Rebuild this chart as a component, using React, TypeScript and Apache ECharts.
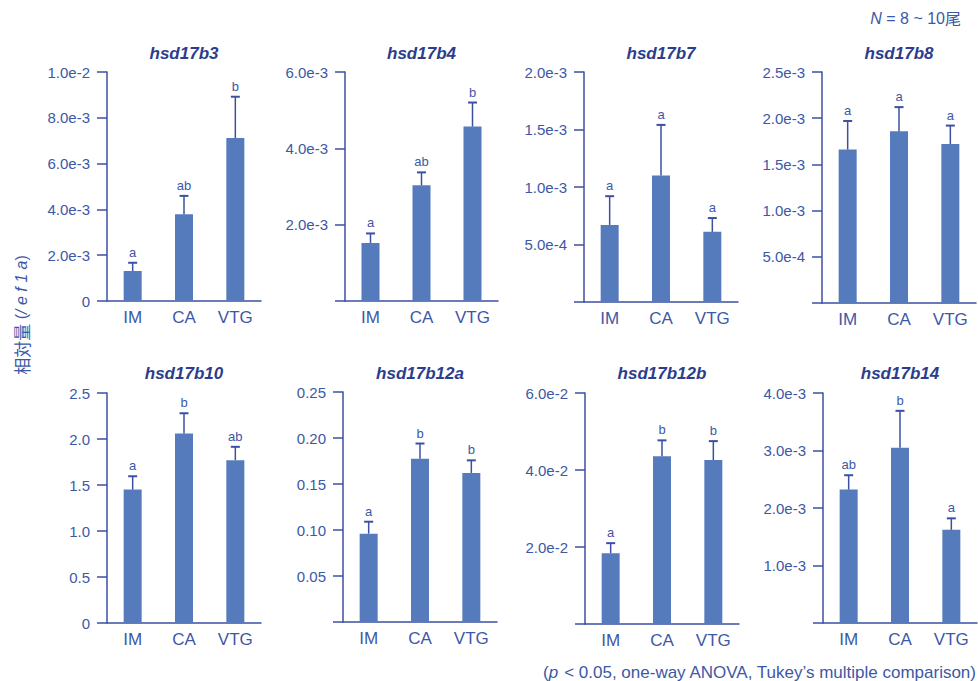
import React, { useEffect, useRef } from "react";
import * as echarts from "echarts";

const categories = ["IM", "CA", "VTG"];
const titles = ["hsd17b3", "hsd17b4", "hsd17b7", "hsd17b8", "hsd17b10", "hsd17b12a", "hsd17b12b", "hsd17b14"];

const meanB3 = [0.00131, 0.00379, 0.00712];
const semB3 = [0.00036, 0.0008, 0.0018];
const meanB4 = [0.00152, 0.00303, 0.00457];
const semB4 = [0.00025, 0.00034, 0.00063];
const meanB7 = [0.00067, 0.0011, 0.00061];
const semB7 = [0.00025, 0.00044, 0.00012];
const meanB8 = [0.00166, 0.00186, 0.00172];
const semB8 = [0.00031, 0.00026, 0.0002];
const meanB10 = [1.45, 2.06, 1.77];
const semB10 = [0.145, 0.22, 0.145];
const meanB12a = [0.096, 0.1775, 0.162];
const semB12a = [0.013, 0.0165, 0.0137];
const meanB12b = [0.0184, 0.0436, 0.0426];
const semB12b = [0.0026, 0.0041, 0.0049];
const meanB14 = [0.00232, 0.00305, 0.00162];
const semB14 = [0.00025, 0.00064, 0.0002];

const lettersB3 = ["a", "ab", "b"];
const lettersB4 = ["a", "ab", "b"];
const lettersB7 = ["a", "a", "a"];
const lettersB8 = ["a", "a", "a"];
const lettersB10 = ["a", "b", "ab"];
const lettersB12a = ["a", "b", "b"];
const lettersB12b = ["a", "b", "b"];
const lettersB14 = ["ab", "b", "a"];

const axisMax = [0.01, 0.006, 0.002, 0.0025, 2.5, 0.25, 0.06, 0.004];
const axisInterval = [0.002, 0.002, 0.0005, 0.0005, 0.5, 0.05, 0.02, 0.001];

const ticksB3 = ["0", "2.0e-3", "4.0e-3", "6.0e-3", "8.0e-3", "1.0e-2"];
const ticksB4 = ["", "2.0e-3", "4.0e-3", "6.0e-3"];
const ticksB7 = ["", "5.0e-4", "1.0e-3", "1.5e-3", "2.0e-3"];
const ticksB8 = ["", "5.0e-4", "1.0e-3", "1.5e-3", "2.0e-3", "2.5e-3"];
const ticksB10 = ["0", "0.5", "1.0", "1.5", "2.0", "2.5"];
const ticksB12a = ["", "0.05", "0.10", "0.15", "0.20", "0.25"];
const ticksB12b = ["", "2.0e-2", "4.0e-2", "6.0e-2"];
const ticksB14 = ["", "1.0e-3", "2.0e-3", "3.0e-3", "4.0e-3"];

const means = [meanB3, meanB4, meanB7, meanB8, meanB10, meanB12a, meanB12b, meanB14];
const sems = [semB3, semB4, semB7, semB8, semB10, semB12a, semB12b, semB14];
const letters = [lettersB3, lettersB4, lettersB7, lettersB8, lettersB10, lettersB12a, lettersB12b, lettersB14];
const tickLabels = [ticksB3, ticksB4, ticksB7, ticksB8, ticksB10, ticksB12a, ticksB12b, ticksB14];

const BAR = "#557bbd";
const AXIS = "#3b50a3";
const TEXT = "#3d58a6";
const TITLE = "#2b3d8c";
const LATIN = '"Liberation Sans", Arial, sans-serif';
const CJK = '"Noto Sans CJK JP", "Liberation Sans", sans-serif';

const gridPos = [
  { left: 107, top: 72, width: 154, height: 229 },
  { left: 345, top: 72, width: 153, height: 229 },
  { left: 584, top: 72, width: 154, height: 230 },
  { left: 822, top: 72, width: 154, height: 231 },
  { left: 107, top: 393, width: 154, height: 230 },
  { left: 343, top: 392, width: 154, height: 230 },
  { left: 585, top: 393, width: 154, height: 231 },
  { left: 823, top: 393, width: 154, height: 230 },
];

export default function App() {
  const ref = useRef<HTMLDivElement>(null);
  useEffect(() => {
    document.body.style.margin = "0";
    if (!ref.current) return;
    const chart = echarts.init(ref.current, undefined, { renderer: "svg" });

    const grids = gridPos.map((g) => ({ ...g, containLabel: false }));
    const xAxes = gridPos.map((_, i) => ({
      type: "category",
      gridIndex: i,
      data: categories,
      axisLine: { show: true, lineStyle: { color: AXIS, width: 1.5 } },
      axisTick: { show: false },
      axisLabel: { color: TEXT, fontSize: 17, fontFamily: LATIN, margin: 8 },
    }));
    const yAxes = gridPos.map((_, i) => ({
      type: "value",
      gridIndex: i,
      min: 0,
      max: axisMax[i],
      interval: axisInterval[i],
      splitLine: { show: false },
      axisLine: { show: true, lineStyle: { color: AXIS, width: 1.5 } },
      axisTick: { show: true, length: 10, inside: false, lineStyle: { color: AXIS, width: 1.5 } },
      axisLabel: {
        color: TEXT,
        fontSize: 15,
        fontFamily: LATIN,
        margin: 17,
        showMinLabel: true,
        showMaxLabel: true,
        formatter: (_v: number, idx: number) => tickLabels[i][idx] ?? "",
      },
    }));

    const series: any[] = [];
    gridPos.forEach((_, i) => {
      series.push({
        type: "bar",
        xAxisIndex: i,
        yAxisIndex: i,
        data: means[i],
        barWidth: 18,
        itemStyle: { color: BAR },
        z: 2,
      });
      const errData = means[i].map((m, k) => [k, m, m + sems[i][k]]);
      series.push({
        type: "custom",
        xAxisIndex: i,
        yAxisIndex: i,
        data: errData,
        encode: { x: 0, y: [1, 2] },
        z: 3,
        renderItem: (params: any, api: any) => {
          const idx = api.value(0);
          const p0 = api.coord([idx, api.value(1)]);
          const p1 = api.coord([idx, api.value(2)]);
          const letter = letters[i][params.dataIndex];
          return {
            type: "group",
            children: [
              {
                type: "line",
                shape: { x1: p0[0], y1: p0[1], x2: p1[0], y2: p1[1] },
                style: { stroke: AXIS, lineWidth: 1.5 },
              },
              {
                type: "line",
                shape: { x1: p1[0] - 4.5, y1: p1[1], x2: p1[0] + 4.5, y2: p1[1] },
                style: { stroke: AXIS, lineWidth: 2 },
              },
              {
                type: "text",
                x: p1[0],
                y: p1[1] - 4,
                style: {
                  text: letter,
                  fill: TEXT,
                  fontSize: 13,
                  fontFamily: LATIN,
                  align: "center",
                  textAlign: "center",
                  verticalAlign: "bottom",
                  textVerticalAlign: "bottom",
                },
              },
            ],
          };
        },
      });
    });

    const titleGraphics = gridPos.map((g, i) => ({
      type: "text",
      x: g.left + g.width / 2,
      y: i < 4 ? 53 : 373,
      style: {
        text: titles[i],
        fill: TITLE,
        fontSize: 17,
        fontWeight: "bold",
        fontStyle: "italic",
        fontFamily: LATIN,
        align: "center",
        textAlign: "center",
        verticalAlign: "middle",
        textVerticalAlign: "middle",
      },
    }));

    chart.setOption({
      animation: false,
      grid: grids,
      xAxis: xAxes,
      yAxis: yAxes,
      series,
      graphic: [
        ...titleGraphics,
        {
          type: "text",
          x: 21,
          y: 315,
          rotation: Math.PI / 2,
          style: {
            text: "{c|相対量}{l| (}{i|/ e f 1 a}{l|)}",
            fill: TEXT,
            align: "center",
            textAlign: "center",
            verticalAlign: "middle",
            textVerticalAlign: "middle",
            rich: {
              c: { fontSize: 17, fontFamily: CJK, fill: TEXT, color: TEXT },
              l: { fontSize: 16, fontFamily: LATIN, fill: TEXT, color: TEXT },
              i: { fontSize: 16, fontFamily: LATIN, fontStyle: "italic", fill: TEXT, color: TEXT },
            },
          },
        },
        {
          type: "text",
          x: 961,
          y: 18,
          style: {
            text: "{i|N}{n| = 8 ~ 10}{c|尾}",
            align: "right",
            textAlign: "right",
            verticalAlign: "middle",
            textVerticalAlign: "middle",
            rich: {
              i: { fontSize: 16, fontFamily: LATIN, fontStyle: "italic", fill: TEXT, color: TEXT },
              n: { fontSize: 16, fontFamily: LATIN, fill: TEXT, color: TEXT },
              c: { fontSize: 16, fontFamily: CJK, fill: TEXT, color: TEXT },
            },
          },
        },
        {
          type: "text",
          x: 976,
          y: 672,
          style: {
            text: "{n|(}{i|p}{n| < 0.05, one-way ANOVA, Tukey’s multiple comparison)}",
            align: "right",
            textAlign: "right",
            verticalAlign: "middle",
            textVerticalAlign: "middle",
            rich: {
              i: { fontSize: 17, fontFamily: LATIN, fontStyle: "italic", fill: TEXT, color: TEXT },
              n: { fontSize: 17, fontFamily: LATIN, fill: TEXT, color: TEXT },
            },
          },
        },
      ],
    });
    return () => chart.dispose();
  }, []);
  return <div ref={ref} style={{ width: 978, height: 681, position: "absolute", left: 0, top: 0 }} />;
}
